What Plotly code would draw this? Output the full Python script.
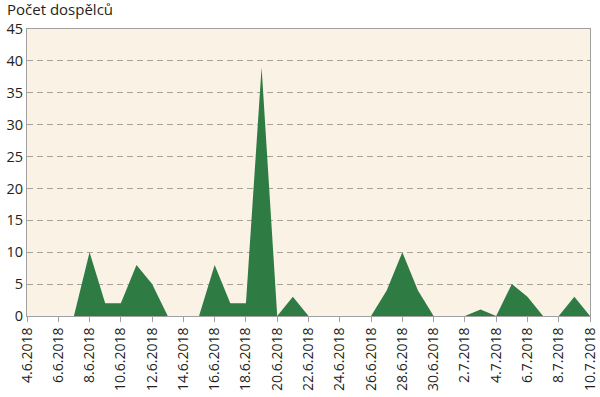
import plotly.graph_objects as go
import datetime as dt

start = dt.date(2018, 6, 4)
days = [start + dt.timedelta(days=i) for i in range(37)]
dates = [f"{d.day}.{d.month}.{d.year}" for d in days]
values = [0, 0, 0, 0, 10, 2, 2, 8, 5, 0, 0, 0, 8, 2, 2, 39, 0, 3, 0, 0,
          0, 0, 0, 4, 10, 4, 0, 0, 0, 1, 0, 5, 3, 0, 0, 3, 0]
tick_labels = dates[::2]
y_title = "Počet dospělců"

fig = go.Figure()
fig.add_trace(go.Scatter(
    x=dates, y=values, mode="lines", fill="tozeroy",
    line=dict(width=0, color="#2E7B43"), fillcolor="#2E7B43",
    hoverinfo="x+y", showlegend=False,
))

font = "Open Sans, Lato, sans-serif"
fig.update_layout(
    width=600, height=397,
    margin=dict(l=27, r=10, t=29, b=81, autoexpand=False),
    paper_bgcolor="white", plot_bgcolor="#FBF2E6",
    font=dict(family=font, size=14, color="#231F20"),
    xaxis=dict(
        type="category", range=[0, len(dates) - 1], automargin=False,
        tickmode="array", tickvals=tick_labels, ticktext=tick_labels,
        tickangle=-90, ticks="outside", ticklen=5, tickcolor="#A0A0A0",
        showgrid=False, showline=True, linecolor="#A0A0A0", linewidth=1,
        mirror=True, zeroline=False, tickfont=dict(size=14),
    ),
    yaxis=dict(
        range=[0, 45], dtick=5, showgrid=True, gridcolor="#A8A29C",
        griddash="6px,4px", gridwidth=1, showline=True, linecolor="#A0A0A0",
        linewidth=1, mirror=True, zeroline=False, ticks="", automargin=False,
        tickfont=dict(size=14.5),
    ),
    annotations=[dict(
        text=y_title, xref="paper", yref="paper", x=-0.039, y=1.0,
        yshift=20, xanchor="left", yanchor="middle", showarrow=False,
        font=dict(size=15, family=font),
    )],
)

fig.write_html("out.html", config={"displayModeBar": False},
               post_script="document.body.style.margin='0';")
